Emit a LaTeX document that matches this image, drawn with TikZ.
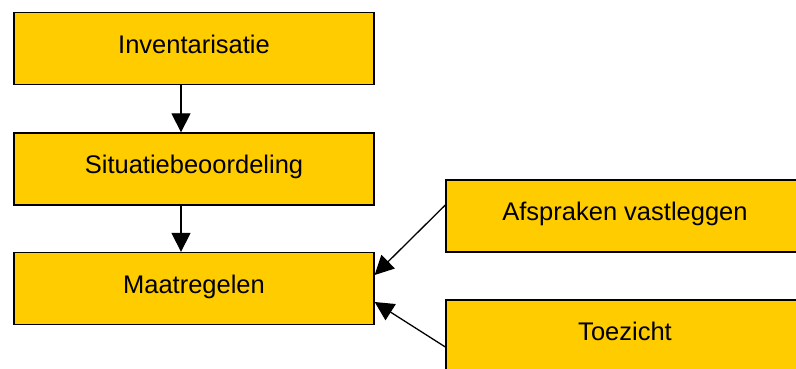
\documentclass[tikz,border=0pt]{standalone}
\usepackage{fontspec}
\setmainfont{Liberation Sans}
\usetikzlibrary{arrows.meta}
\definecolor{boxyellow}{HTML}{FFCC00}
\begin{document}
\begin{tikzpicture}[x=1pt,y=-1pt,
  stepbox/.style={draw=black, line width=1.3pt, fill=boxyellow, inner sep=0pt,
    minimum height=72pt, text height=18pt, text depth=8.4pt,
    font=\fontsize{25.5}{30}\selectfont},
  leftbox/.style={stepbox, minimum width=360pt},
  rightbox/.style={stepbox, minimum width=358pt},
  conn/.style={line width=1.3pt, -{Triangle[length=19pt,width=19pt]}}]
\useasboundingbox (0,0) rectangle (796,369);
\clip (0,0) rectangle (796,369);
\node[leftbox] (inv) at (194,48.5) {Inventarisatie};
\node[leftbox] (sit) at (194,169) {Situatiebeoordeling};
\node[leftbox] (maa) at (194,288.5) {Maatregelen};
\node[rightbox] (afs) at (625,216) {Afspraken vastleggen};
\node[rightbox] (toe) at (625,336) {Toezicht};
\draw[conn] ([xshift=-13pt]inv.south) -- ([xshift=-13pt]sit.north);
\draw[conn] ([xshift=-13pt]sit.south) -- ([xshift=-13pt]maa.north);
\draw[conn] ([yshift=11pt]afs.west) -- ([yshift=13.5pt]maa.east);
\draw[conn] ([yshift=-11pt]toe.west) -- ([yshift=-13.5pt]maa.east);
\end{tikzpicture}
\end{document}
